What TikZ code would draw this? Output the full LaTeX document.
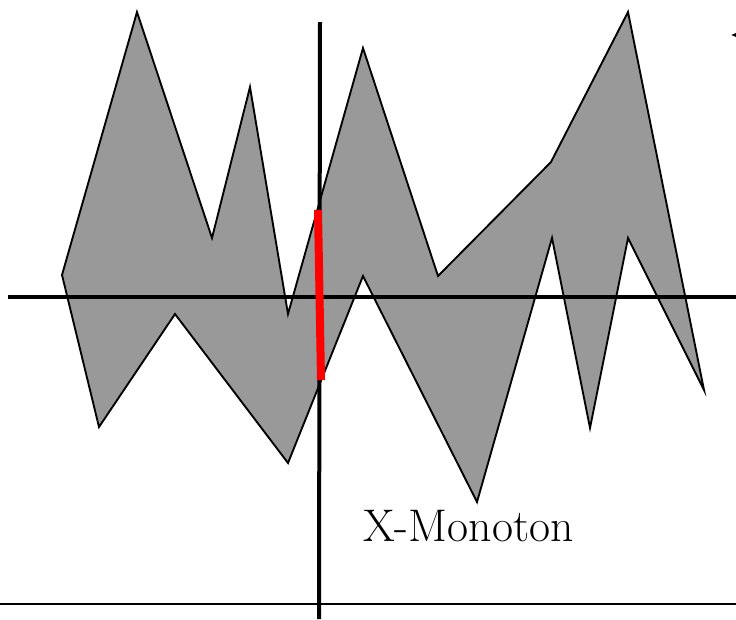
\documentclass[tikz,border=0pt]{standalone}
\usepackage{amsmath,amssymb}
\usepackage{tikz}
\usetikzlibrary{arrows.meta}

\begin{document}
\begin{tikzpicture}[
    x=0.75pt, y=-0.75pt,
    poly/.style={draw, line width=1.4pt, fill=black!40, line join=miter},
    axis/.style={line width=3pt},
    cut/.style={red, line width=6pt}
]
\useasboundingbox (0,0) rectangle (736,619);
\clip (0,0) rectangle (736,619);

% polygon
\draw[poly] (62,275) -- (137,12) -- (212,238) -- (250,87) -- (288,314) -- (363,48)
  -- (438,276) -- (551,162) -- (628,12) -- (704,390) -- (628,238) -- (590,428)
  -- (552,238) -- (477,502) -- (363,276) -- (288,463) -- (175,314) -- (99,427) -- cycle;

% lines
\coordinate (hl) at (8,297);
\coordinate (hr) at (736,297);
\coordinate (vt) at (320,22);
\coordinate (vb) at (319,619);
\coordinate (bl) at (0,604);
\coordinate (br) at (736,604);
\draw[axis] (hl) -- (hr);
\draw[axis] (vt) -- (vb);
\draw[line width=2.2pt] (bl) -- (br);

% cut segment
\coordinate (ct) at (318,210);
\coordinate (cb) at (321,380);
\draw[cut] (ct) -- (cb);

% arrow tip at the edge
\coordinate (tipa) at (760,35);
\coordinate (tipb) at (731,35);
\draw[-{Latex[length=6pt,width=6pt]}, thick] (tipa) -- (tipb);

\node[anchor=base west, inner sep=0pt] (label) at (363,541) {\fontsize{34.3}{40}\selectfont X-Monoton};

\end{tikzpicture}
\end{document}
